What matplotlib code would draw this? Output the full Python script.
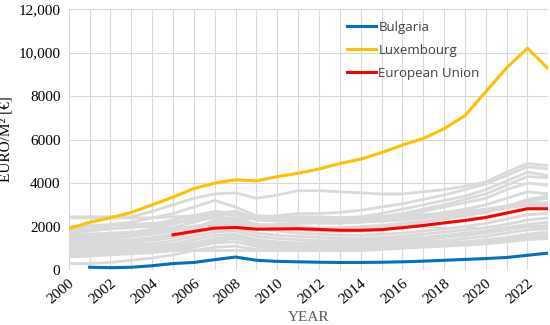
import matplotlib.pyplot as plt
from matplotlib.ticker import FuncFormatter

years = list(range(2000, 2024))

bulgaria = [None, 130, 110, 130, 200, 300, 350, 480, 600, 450, 400, 380,
            360, 350, 350, 360, 380, 410, 450, 490, 530, 580, 680, 780]
luxembourg = [1900, 2200, 2400, 2650, 3000, 3350, 3750, 4000, 4150, 4100, 4300, 4450,
              4650, 4900, 5100, 5400, 5750, 6050, 6500, 7100, 8200, 9300, 10200, 9250]
eu = [None, None, None, None, None, 1620, 1780, 1930, 1960, 1880, 1890, 1900,
      1870, 1830, 1830, 1860, 1950, 2050, 2170, 2280, 2420, 2620, 2820, 2820]

# other member states (grey background lines)
others = [
    [2450, 2450, 2450, 2450, 2700, 3000, 3300, 3500, 3550, 3300, 3450, 3650, 3650, 3600, 3550, 3500, 3500, 3600, 3700, 3850, 4050, 4500, 4900, 4800],
    [2400, 2400, 2400, 2400, 2400, 2450, 2500, 2550, 2550, 2450, 2500, 2600, 2600, 2650, 2750, 2900, 3050, 3250, 3450, 3700, 3950, 4350, 4750, 4650],
    [1900, 2000, 2100, 2200, 2400, 2600, 2900, 3200, 2900, 2500, 2450, 2450, 2400, 2400, 2450, 2600, 2800, 3000, 3200, 3400, 3700, 4100, 4500, 4350],
    [1700, 1800, 1900, 2000, 2100, 2300, 2500, 2700, 2600, 2300, 2250, 2250, 2200, 2250, 2300, 2400, 2500, 2700, 2900, 3100, 3300, 3700, 4000, 3900],
    [1500, 1550, 1600, 1700, 1900, 2100, 2400, 2600, 2700, 2400, 2300, 2250, 2200, 2200, 2250, 2300, 2400, 2500, 2650, 2800, 3000, 3300, 3600, 3500],
    [1400, 1450, 1500, 1600, 1750, 1950, 2200, 2450, 2300, 2100, 2050, 2000, 1950, 1950, 2000, 2050, 2150, 2250, 2400, 2550, 2700, 2950, 3200, 3300],
    [1300, 1350, 1450, 1550, 1650, 1800, 2000, 2200, 2250, 2000, 1900, 1850, 1800, 1750, 1800, 1850, 1950, 2050, 2150, 2300, 2450, 2650, 2850, 2950],
    [1200, 1250, 1300, 1350, 1450, 1600, 1800, 2000, 2100, 1900, 1800, 1700, 1650, 1600, 1600, 1650, 1700, 1800, 1900, 2000, 2150, 2350, 2550, 2600],
    [1100, 1150, 1200, 1250, 1350, 1500, 1700, 1900, 1950, 1700, 1600, 1550, 1500, 1450, 1450, 1500, 1550, 1650, 1750, 1850, 1950, 2100, 2300, 2400],
    [1000, 1050, 1100, 1150, 1200, 1350, 1550, 1750, 1800, 1550, 1450, 1400, 1350, 1350, 1350, 1400, 1450, 1500, 1600, 1700, 1800, 1950, 2100, 2200],
    [900, 950, 1000, 1050, 1100, 1200, 1400, 1600, 1650, 1400, 1300, 1250, 1250, 1250, 1250, 1300, 1350, 1400, 1500, 1600, 1700, 1850, 2000, 2050],
    [800, 850, 900, 950, 1000, 1100, 1250, 1450, 1550, 1300, 1200, 1150, 1150, 1150, 1150, 1200, 1250, 1300, 1350, 1450, 1550, 1700, 1850, 1900],
    [700, 750, 800, 850, 900, 1000, 1150, 1350, 1450, 1200, 1100, 1050, 1050, 1050, 1050, 1100, 1150, 1200, 1250, 1300, 1400, 1500, 1650, 1750],
    [600, 650, 700, 750, 800, 900, 1050, 1250, 1300, 1100, 1000, 950, 950, 950, 950, 1000, 1050, 1100, 1150, 1200, 1300, 1400, 1550, 1600],
    [300, 300, 350, 450, 550, 700, 900, 1050, 1100, 950, 900, 900, 900, 900, 950, 1000, 1050, 1100, 1150, 1200, 1300, 1400, 1500, 1500],
    [1600, 1650, 1700, 1750, 1800, 1900, 2000, 2100, 2150, 2050, 2100, 2150, 2150, 2150, 2200, 2250, 2300, 2400, 2500, 2600, 2700, 2850, 3000, 3050],
    [2000, 2050, 2050, 2100, 2150, 2200, 2300, 2400, 2400, 2350, 2400, 2450, 2450, 2400, 2400, 2450, 2500, 2550, 2600, 2700, 2800, 2950, 3100, 3100],
    [None, None, None, 800, 850, 900, 900, 900, 900, 900, 900, 900, 900, 900, 900, 950, 1000, 1050, 1100, 1150, 1200, 1300, 1400, 1450],
    [1250, 1300, 1350, 1400, 1500, 1650, 1900, 2300, 2400, 2100, 2000, 1950, 1900, 1850, 1900, 1950, 2050, 2200, 2350, 2500, 2650, 2900, 3250, 3400],
    [1800, 1850, 1900, 1950, 2050, 2150, 2300, 2500, 2550, 2350, 2300, 2350, 2300, 2300, 2350, 2450, 2600, 2800, 3000, 3250, 3500, 3900, 4300, 4250],
]

grey = '#d9d9d9'
text_grey = '#595959'
serif = 'Liberation Serif'

fig = plt.figure(figsize=(5.5, 3.25), dpi=100)
ax = fig.add_axes([0.125, 0.169, 0.872, 0.803])

for s in others:
    ax.plot(years, s, color=grey, lw=2.0, solid_capstyle='round')

ax.plot(years, bulgaria, color='#0070c0', lw=2.2, label='Bulgaria')
ax.plot(years, luxembourg, color='#ffc000', lw=2.2, label='Luxembourg')
ax.plot(years, eu, color='#ff0000', lw=2.2, label='European Union')

ax.set_xlim(2000, 2023)
ax.set_ylim(0, 12000)
ax.set_xticks(range(2000, 2024, 2))
ax.set_xticks(range(2000, 2024), minor=True)
ax.set_yticks(range(0, 12001, 2000))
ax.yaxis.set_major_formatter(FuncFormatter(lambda v, p: f'{int(v):,}' if v >= 10000 else f'{int(v)}'))

ax.grid(True, which='both', color=grey, lw=0.8)
ax.set_axisbelow(True)
for sp in ax.spines.values():
    sp.set_visible(False)
ax.tick_params(which='both', length=0)
ax.tick_params(axis='y', pad=6)
ax.tick_params(axis='x', pad=5)

for lab in ax.get_xticklabels():
    lab.set_rotation(40)
    lab.set_ha('right')
    lab.set_va('top')
    lab.set_rotation_mode('anchor')
for lab in ax.get_xticklabels() + ax.get_yticklabels():
    lab.set_fontfamily(serif)
    lab.set_fontsize(11)
    lab.set_color('black')

ax.set_xlabel('YEAR', family=serif, fontsize=11, color=text_grey, labelpad=3)
ax.set_ylabel('EURO/M² [€]', family=serif, fontsize=11, color='black', labelpad=4)

leg = ax.legend(loc='upper left', bbox_to_anchor=(0.555, 1.0), frameon=False,
                prop={'family': 'Open Sans', 'size': 9.5}, handlelength=2.2,
                handletextpad=0.2, labelspacing=0.75)
for t in leg.get_texts():
    t.set_color('#404040')

fig.savefig('out.png', dpi=100)
